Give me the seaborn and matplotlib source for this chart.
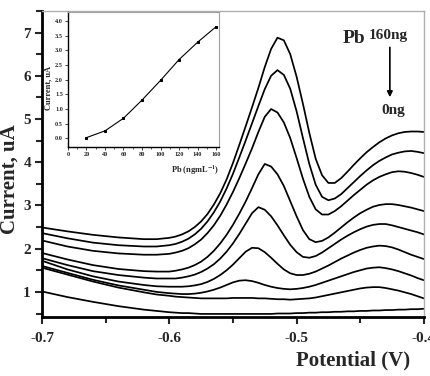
import numpy as np
import pandas as pd
import seaborn as sns
import matplotlib.pyplot as plt
from matplotlib.ticker import MultipleLocator

potential = [-0.70, -0.68, -0.66, -0.64, -0.62, -0.61, -0.600, -0.595, -0.590, -0.585,
             -0.580, -0.575, -0.570, -0.565, -0.560, -0.555, -0.550, -0.545, -0.540, -0.535,
             -0.530, -0.525, -0.520, -0.515, -0.510, -0.505, -0.500, -0.495, -0.490, -0.485,
             -0.480, -0.475, -0.470, -0.465, -0.460, -0.455, -0.450, -0.445, -0.440, -0.435,
             -0.430, -0.425, -0.420, -0.415, -0.410, -0.405, -0.400]

# Current (uA) for each Pb amount
c160 = [2.49, 2.40, 2.32, 2.26, 2.22, 2.22, 2.25, 2.28, 2.33, 2.40,
        2.50, 2.63, 2.80, 3.02, 3.28, 3.60, 3.98, 4.40, 4.83, 5.27,
        5.72, 6.20, 6.62, 6.88, 6.82, 6.50, 5.98, 5.35, 4.68, 4.08,
        3.70, 3.52, 3.52, 3.63, 3.78, 3.94, 4.09, 4.23, 4.35, 4.46,
        4.55, 4.62, 4.67, 4.70, 4.71, 4.71, 4.70]
c140 = [2.36, 2.24, 2.14, 2.08, 2.05, 2.05, 2.08, 2.11, 2.16, 2.23,
        2.33, 2.46, 2.63, 2.84, 3.09, 3.39, 3.73, 4.11, 4.50, 4.90,
        5.30, 5.69, 6.00, 6.13, 6.02, 5.70, 5.18, 4.56, 3.96, 3.48,
        3.20, 3.12, 3.16, 3.26, 3.40, 3.54, 3.68, 3.81, 3.93, 4.03,
        4.11, 4.18, 4.22, 4.25, 4.26, 4.24, 4.21]
c120 = [2.19, 2.05, 1.95, 1.89, 1.86, 1.86, 1.88, 1.91, 1.95, 2.01,
        2.10, 2.21, 2.36, 2.54, 2.76, 3.02, 3.31, 3.63, 3.97, 4.32,
        4.70, 5.05, 5.23, 5.15, 4.92, 4.56, 4.10, 3.62, 3.20, 2.91,
        2.79, 2.79, 2.87, 2.98, 3.11, 3.24, 3.36, 3.48, 3.58, 3.66,
        3.72, 3.77, 3.79, 3.78, 3.75, 3.71, 3.66]
c100 = [1.90, 1.75, 1.62, 1.53, 1.48, 1.47, 1.47, 1.49, 1.52, 1.56,
        1.62, 1.70, 1.81, 1.95, 2.12, 2.32, 2.55, 2.81, 3.09, 3.40,
        3.72, 3.96, 3.90, 3.72, 3.45, 3.10, 2.75, 2.43, 2.22, 2.15,
        2.18, 2.26, 2.37, 2.49, 2.61, 2.72, 2.82, 2.90, 2.97, 3.01,
        3.03, 3.03, 3.01, 2.98, 2.95, 2.91, 2.87]
c80 = [1.78, 1.62, 1.48, 1.39, 1.33, 1.31, 1.31, 1.31, 1.33, 1.36,
       1.40, 1.46, 1.54, 1.64, 1.77, 1.93, 2.12, 2.34, 2.58, 2.82,
       2.96, 2.90, 2.75, 2.54, 2.31, 2.09, 1.92, 1.81, 1.79, 1.83,
       1.91, 2.01, 2.11, 2.21, 2.30, 2.38, 2.45, 2.51, 2.55, 2.57,
       2.57, 2.54, 2.50, 2.46, 2.42, 2.38, 2.33]
c60 = [1.72, 1.52, 1.36, 1.24, 1.16, 1.13, 1.12, 1.12, 1.12, 1.13,
       1.15, 1.18, 1.23, 1.30, 1.39, 1.50, 1.63, 1.78, 1.93, 2.02,
       2.01, 1.92, 1.79, 1.65, 1.52, 1.43, 1.39, 1.39, 1.42, 1.47,
       1.54, 1.61, 1.69, 1.77, 1.84, 1.91, 1.97, 2.02, 2.05, 2.07,
       2.06, 2.03, 1.98, 1.92, 1.86, 1.81, 1.76]
c40 = [1.60, 1.44, 1.28, 1.15, 1.05, 1.00, 0.97, 0.96, 0.95, 0.95,
       0.96, 0.98, 1.01, 1.05, 1.10, 1.16, 1.22, 1.26, 1.27, 1.25,
       1.21, 1.16, 1.12, 1.09, 1.07, 1.06, 1.07, 1.09, 1.12, 1.16,
       1.21, 1.26, 1.31, 1.36, 1.41, 1.46, 1.50, 1.54, 1.56, 1.57,
       1.55, 1.52, 1.48, 1.43, 1.38, 1.32, 1.27]
c20 = [1.56, 1.40, 1.24, 1.10, 0.99, 0.94, 0.91, 0.89, 0.88, 0.87,
       0.86, 0.85, 0.85, 0.85, 0.85, 0.85, 0.86, 0.86, 0.86, 0.86,
       0.85, 0.85, 0.84, 0.83, 0.83, 0.82, 0.83, 0.84, 0.85, 0.87,
       0.90, 0.93, 0.96, 0.99, 1.02, 1.05, 1.08, 1.10, 1.11, 1.11,
       1.09, 1.06, 1.03, 0.99, 0.95, 0.90, 0.85]
c0 = [1.01, 0.88, 0.77, 0.67, 0.59, 0.56, 0.53, 0.52, 0.51, 0.51,
      0.50, 0.49, 0.49, 0.49, 0.49, 0.49, 0.49, 0.49, 0.49, 0.49,
      0.49, 0.49, 0.49, 0.50, 0.50, 0.50, 0.51, 0.51, 0.52, 0.52,
      0.53, 0.53, 0.54, 0.54, 0.55, 0.55, 0.56, 0.56, 0.57, 0.57,
      0.58, 0.58, 0.59, 0.59, 0.60, 0.60, 0.61]

# Inset calibration data
pb_conc = [20, 40, 60, 80, 100, 120, 140, 160]
peak_current = [0.02, 0.25, 0.68, 1.30, 1.97, 2.68, 3.27, 3.80]

curves = {'160': c160, '140': c140, '120': c120, '100': c100, '80': c80,
          '60': c60, '40': c40, '20': c20, '0': c0}
df = pd.concat([pd.DataFrame({'Potential': potential, 'Current': v, 'Pb': k})
                for k, v in curves.items()], ignore_index=True)
cal = pd.DataFrame({'Pb': pb_conc, 'Current': peak_current})

sns.set_style("ticks")
plt.rcParams['font.family'] = ['Liberation Serif', 'DejaVu Serif']
plt.rcParams['font.weight'] = 'bold'
plt.rcParams['mathtext.fontset'] = 'stix'

fig = plt.figure(figsize=(4.3, 3.76), dpi=100)
ax = fig.add_axes([0.0977, 0.157, 0.888, 0.814])

sns.lineplot(data=df, x='Potential', y='Current', hue='Pb', palette=['black'] * 9,
             legend=False, sort=False, linewidth=1.25, ax=ax)

ax.set_xlim(-0.7, -0.4)
ax.set_ylim(0.42, 7.5)
ax.xaxis.set_major_locator(MultipleLocator(0.1))
ax.xaxis.set_minor_locator(MultipleLocator(0.05))
ax.yaxis.set_major_locator(MultipleLocator(1))
ax.yaxis.set_minor_locator(MultipleLocator(0.5))
ax.set_xticklabels([f'{t:.1f}' for t in ax.get_xticks()])
ax.tick_params(which='major', direction='out', length=5, width=1.5, labelsize=11, pad=3)
ax.tick_params(axis='x', which='major', pad=6)
ax.tick_params(which='minor', direction='out', length=4, width=1.5)
for s in ['left', 'bottom']:
    ax.spines[s].set_linewidth(2)
    ax.spines[s].set_color('black')
for s in ['top', 'right']:
    ax.spines[s].set_linewidth(1)
    ax.spines[s].set_color('#b0b0b0')

ax.set_xlabel('Potential (V)', fontsize=15, fontweight='bold', ha='right')
ax.xaxis.set_label_coords(0.965, -0.11)
ax.set_ylabel('Current, uA', fontsize=15, fontweight='bold')
ax.yaxis.set_label_coords(-0.06, 0.45)

# Pb 160ng -> 0ng annotation
ax.text(0.817, 0.895, 'Pb', transform=ax.transAxes, fontsize=14,
        fontweight='bold', ha='center', va='baseline')
ax.text(0.907, 0.908, '160ng', transform=ax.transAxes, fontsize=11,
        fontweight='bold', ha='center', va='baseline')
ax.annotate('', xy=(0.911, 0.709), xytext=(0.911, 0.89), xycoords='axes fraction',
            arrowprops=dict(arrowstyle='-|>', color='black', lw=1.2, mutation_scale=8))
ax.text(0.919, 0.663, '0ng', transform=ax.transAxes, fontsize=11,
        fontweight='bold', ha='center', va='baseline')

# Inset: calibration curve
ins = fig.add_axes([0.158, 0.609, 0.351, 0.359])
sns.lineplot(data=cal, x='Pb', y='Current', color='black', marker='s', markersize=2,
             markeredgecolor='black', linewidth=0.8, ax=ins)
ins.set_xlim(0, 163)
ins.set_ylim(-0.3, 4.3)
ins.xaxis.set_major_locator(MultipleLocator(20))
ins.xaxis.set_minor_locator(MultipleLocator(10))
ins.yaxis.set_major_locator(MultipleLocator(0.5))
ins.set_yticklabels([f'{t:.1f}' for t in ins.get_yticks()])
ins.tick_params(which='major', direction='out', length=2, width=0.6, labelsize=4.5, pad=1.5)
ins.tick_params(which='minor', direction='out', length=1.2, width=0.5)
for s in ['left', 'bottom']:
    ins.spines[s].set_linewidth(1)
    ins.spines[s].set_color('black')
for s in ['top', 'right']:
    ins.spines[s].set_linewidth(0.8)
    ins.spines[s].set_color('#a0a0a0')
ins.set_ylabel('Current, uA', fontsize=6, fontweight='bold', labelpad=2)
ins.yaxis.set_label_coords(-0.10, 0.44)
ins.set_xlabel('Pb (ngmL$^{-1}$)', fontsize=6, fontweight='bold', ha='right')
ins.xaxis.set_label_coords(1.0, -0.12)

fig.savefig('out.png', dpi=100)
plt.close(fig)
